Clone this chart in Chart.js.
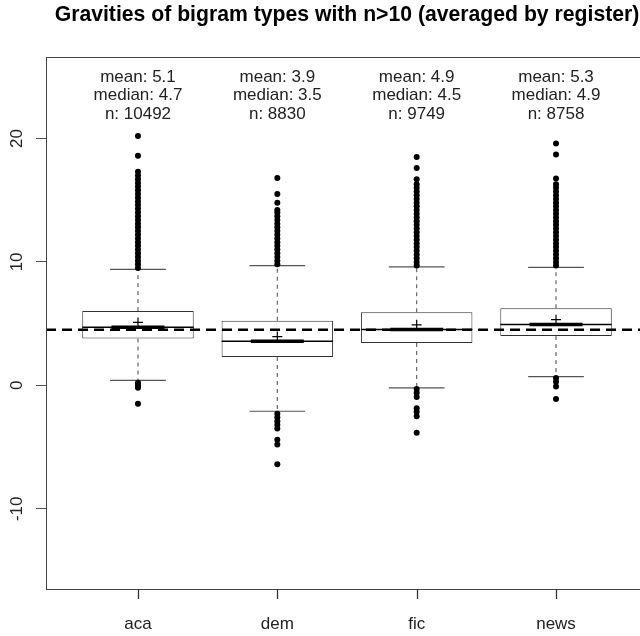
<!DOCTYPE html>
<html>
<head>
<meta charset="utf-8">
<script src="https://cdn.jsdelivr.net/npm/chart.js@4.4.1/dist/chart.umd.min.js"></script>
<style>
  html, body { margin: 0; padding: 0; background: #fff; overflow: hidden; }
  #chart { display: block; }
</style>
</head>
<body>
<canvas id="chart" width="694" height="636"></canvas>
<script>
const title = 'Gravities of bigram types with n>10 (averaged by register)';
const categories = ['aca', 'dem', 'fic', 'news'];
const q1 = [3.8, 2.3, 3.42, 4.0];
const medians = [4.7, 3.57, 4.52, 4.93];
const q3 = [6.02, 5.24, 5.93, 6.25];
const whiskerLow = [0.4, -2.1, -0.2, 0.7];
const whiskerHigh = [9.4, 9.7, 9.6, 9.55];
const means = [5.1, 3.95, 4.9, 5.32];
const meanLabels = ['5.1', '3.9', '4.9', '5.3'];
const medianLabels = ['4.7', '3.5', '4.5', '4.9'];
const counts = [10492, 8830, 9749, 8758];
const refLine = 4.5;
const yTicks = [-10, 0, 10, 20];

// outliers per register
const outAca = [9.5, 9.8, 10.1, 10.4, 10.7, 11.0, 11.3, 11.6, 11.9, 12.2, 12.5, 12.8, 13.1, 13.4,
  13.7, 14.0, 14.3, 14.6, 14.9, 15.2, 15.5, 15.8, 16.1, 16.4, 16.7, 17.0, 17.3, 18.6, 20.2,
  0.2, 0.0, -0.2, -1.5];
const outDem = [9.8, 10.1, 10.4, 10.7, 11.0, 11.3, 11.6, 11.9, 12.2, 12.5, 12.8, 13.1, 13.4,
  13.7, 14.0, 14.2, 14.8, 15.5, 16.8,
  -2.3, -2.6, -2.9, -3.2, -3.5, -4.4, -4.8, -6.4];
const outFic = [9.7, 10.0, 10.3, 10.6, 10.9, 11.2, 11.5, 11.8, 12.1, 12.4, 12.7, 13.0, 13.3,
  13.6, 13.9, 14.2, 14.5, 14.8, 15.1, 15.4, 15.7, 16.0, 16.3, 16.7, 17.6, 18.5,
  -0.3, -0.6, -0.95, -1.85, -2.15, -2.5, -3.85];
const outNews = [9.7, 10.0, 10.3, 10.6, 10.9, 11.2, 11.5, 11.8, 12.1, 12.4, 12.7, 13.0, 13.3,
  13.6, 13.9, 14.2, 14.5, 14.8, 15.1, 15.4, 15.7, 16.0, 16.3, 16.75, 18.7, 19.6,
  0.6, 0.3, -0.1, -1.1];
const outliers = [outAca, outDem, outFic, outNews];

const xMin = 0.34, xMax = 4.66;
const FONT = '"Liberation Sans", Arial, sans-serif';

// turn [x1,y1,x2,y2] segments into one line dataset with gaps
function segs(list) {
    const pts = [];
    list.forEach(s => {
        pts.push({ x: s[0], y: s[1] }, { x: s[2], y: s[3] }, { x: s[2], y: null });
    });
    return pts;
}

const pos = categories.map((c, i) => i + 1);

const outlierPts = [];
outliers.forEach((arr, i) => arr.forEach(v => outlierPts.push({ x: pos[i], y: v })));

// box round the plot + x tick marks (R style)
const frame = {
    id: 'frame',
    afterDraw(chart) {
        const { ctx, chartArea: a } = chart;
        const xs = chart.scales.x;
        ctx.save();
        ctx.strokeStyle = '#444';
        ctx.lineWidth = 1;
        ctx.strokeRect(Math.round(a.left) + 0.5, Math.round(a.top) + 0.5,
            Math.round(a.right - a.left), Math.round(a.bottom - a.top));
        ctx.strokeStyle = '#333';
        ctx.lineWidth = 1.3;
        const b = Math.round(a.bottom);
        pos.forEach(v => {
            const x = Math.round(xs.getPixelForValue(v)) + 0.5;
            ctx.beginPath();
            ctx.moveTo(x, b);
            ctx.lineTo(x, b + 10);
            ctx.stroke();
        });
        ctx.restore();
    }
};

// R centres the main title over the plot region, not the canvas
const plotTitle = {
    id: 'plotTitle',
    afterDraw(chart) {
        const { ctx, chartArea: a } = chart;
        ctx.save();
        ctx.fillStyle = '#000';
        ctx.font = 'bold 21.2px ' + FONT;
        ctx.textAlign = 'center';
        ctx.textBaseline = 'middle';
        ctx.fillText(title, (a.left + a.right) / 2, 15);
        ctx.restore();
    }
};

const boxLabels = {
    id: 'boxLabels',
    afterDraw(chart) {
        const { ctx, chartArea: a } = chart;
        const xs = chart.scales.x;
        ctx.save();
        ctx.fillStyle = '#222';
        ctx.font = '17px ' + FONT;
        ctx.textAlign = 'center';
        ctx.textBaseline = 'middle';
        categories.forEach((c, i) => {
            const x = xs.getPixelForValue(pos[i]);
            const lines = ['mean: ' + meanLabels[i], 'median: ' + medianLabels[i], 'n: ' + counts[i]];
            lines.forEach((t, k) => ctx.fillText(t, x, a.top + 20 + k * 18.5));
        });
        ctx.restore();
    }
};

const ctx = document.getElementById('chart').getContext('2d');
Chart.defaults.font.family = FONT;
Chart.defaults.color = '#222';

new Chart(ctx, {
    type: 'scatter',
    data: {
        datasets: [
            {
                label: 'outliers',
                data: outlierPts,
                pointRadius: 3,
                pointBackgroundColor: '#000',
                pointBorderWidth: 0
            },
            {
                label: 'mean',
                data: means.map((m, i) => ({ x: pos[i], y: m })),
                pointStyle: 'cross',
                pointRadius: 5,
                pointBorderColor: '#000',
                pointBorderWidth: 1.2
            },
            {
                type: 'line',
                label: 'reference',
                data: segs([[xMin, refLine, xMax, refLine]]),
                borderColor: '#000',
                borderWidth: 2.5,
                borderDash: [10, 6],
                pointRadius: 0,
                spanGaps: false
            },
            {
                type: 'line',
                label: 'median thick',
                data: segs(medians.map((m, i) => [pos[i] - 0.19, m, pos[i] + 0.19, m])),
                borderColor: '#000',
                borderWidth: 3.5,
                pointRadius: 0,
                spanGaps: false
            },
            {
                type: 'line',
                label: 'median',
                data: segs(medians.map((m, i) => [pos[i] - 0.4, m, pos[i] + 0.4, m])),
                borderColor: '#000',
                borderWidth: 1.5,
                pointRadius: 0,
                spanGaps: false
            },
            {
                type: 'line',
                label: 'caps',
                data: segs(pos.flatMap((p, i) => [
                    [p - 0.2, whiskerHigh[i], p + 0.2, whiskerHigh[i]],
                    [p - 0.2, whiskerLow[i], p + 0.2, whiskerLow[i]]
                ])),
                borderColor: '#555',
                borderWidth: 1.2,
                pointRadius: 0,
                spanGaps: false
            },
            {
                type: 'line',
                label: 'whiskers',
                data: segs(pos.flatMap((p, i) => [
                    [p, q3[i], p, whiskerHigh[i]],
                    [p, q1[i], p, whiskerLow[i]]
                ])),
                borderColor: '#666',
                borderWidth: 1.2,
                borderDash: [4, 4],
                pointRadius: 0,
                spanGaps: false
            },
            {
                type: 'bar',
                label: 'box',
                data: pos.map((p, i) => ({ x: p, y: [q1[i], q3[i]] })),
                backgroundColor: '#fff',
                borderColor: '#333',
                borderWidth: 1,
                borderSkipped: false,
                categoryPercentage: 1,
                barPercentage: 0.8
            }
        ]
    },
    options: {
        responsive: false,
        animation: false,
        layout: { padding: { left: 0, right: 46, top: 57, bottom: 0 } },
        plugins: {
            legend: { display: false },
            tooltip: { enabled: false },
            title: { display: false }
        },
        scales: {
            x: {
                type: 'linear',
                min: xMin,
                max: xMax,
                offset: false,
                afterBuildTicks: s => { s.ticks = pos.map(v => ({ value: v })); },
                afterFit: s => { s.height = 47; },
                ticks: {
                    callback: v => categories[v - 1],
                    font: { size: 17 },
                    padding: 15,
                    autoSkip: false,
                    maxRotation: 0
                },
                grid: { display: false, offset: false, tickLength: 10 },
                border: { display: true, color: '#444' }
            },
            y: {
                min: -16.5,
                max: 26.6,
                afterBuildTicks: s => { s.ticks = yTicks.map(v => ({ value: v })); },
                afterFit: s => { s.width = 46; },
                ticks: {
                    font: { size: 17 },
                    minRotation: 90,
                    maxRotation: 90,
                    crossAlign: 'center',
                    padding: 6
                },
                grid: { offset: false, drawOnChartArea: false, drawTicks: true, tickLength: 10, color: '#555' },
                border: { display: true, color: '#444' }
            }
        }
    },
    plugins: [frame, plotTitle, boxLabels]
});
</script>
</body>
</html>
